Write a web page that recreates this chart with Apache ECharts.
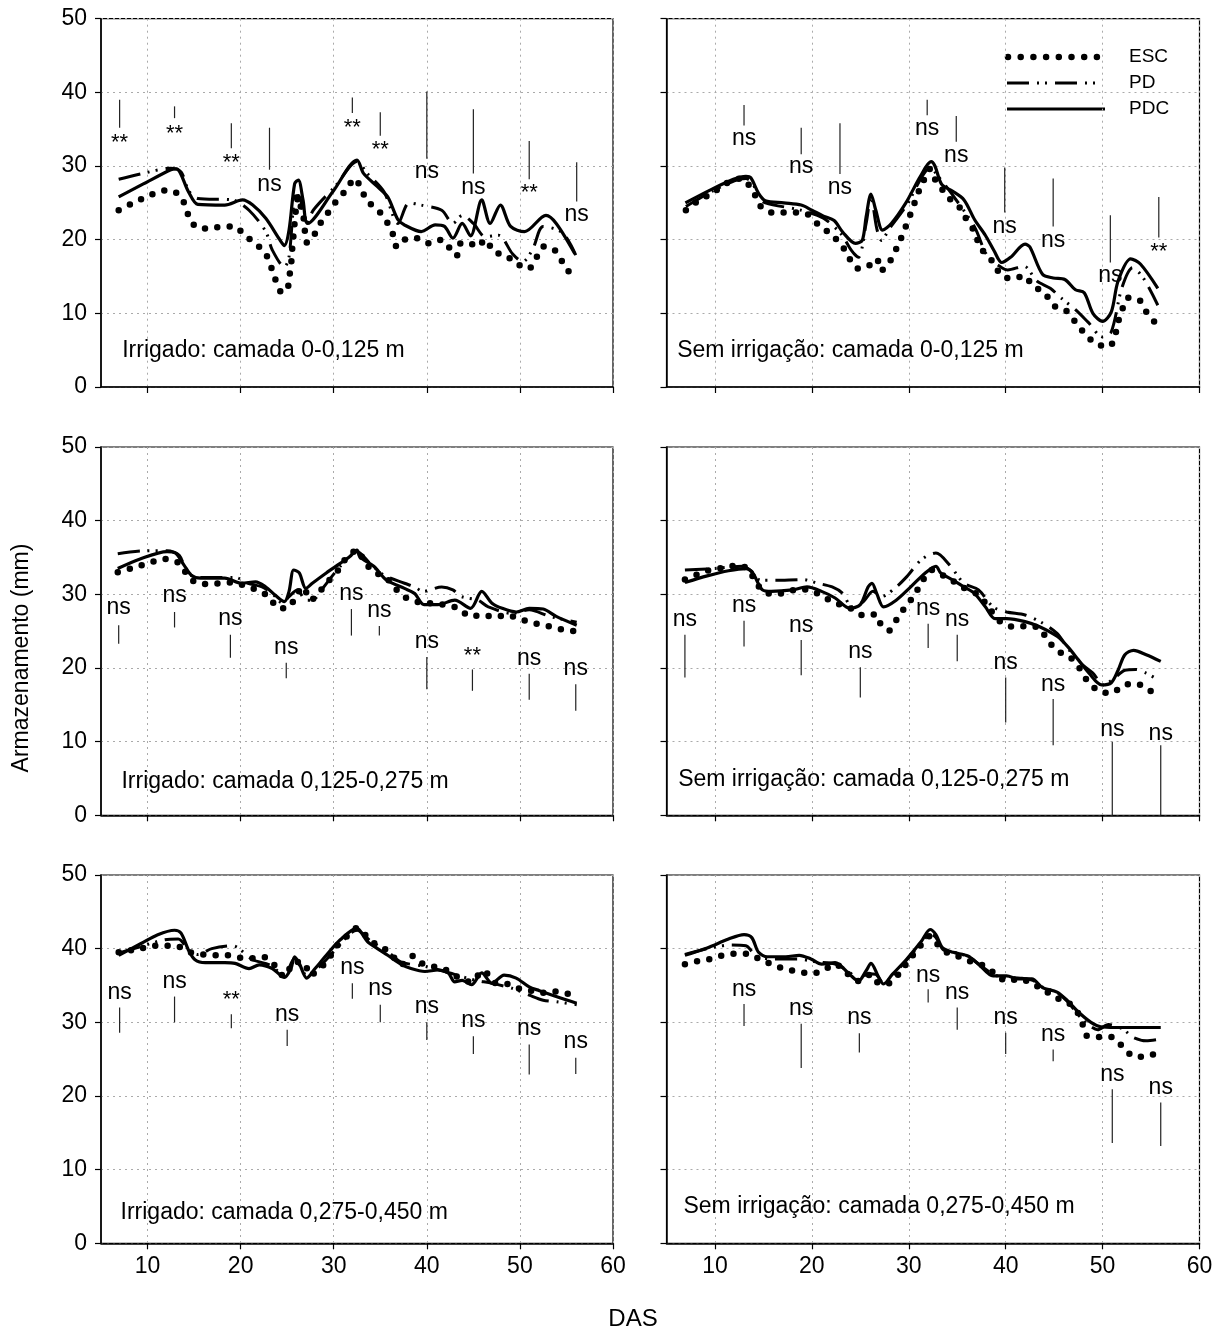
<!DOCTYPE html>
<html><head><meta charset="utf-8">
<script src="https://cdn.jsdelivr.net/npm/echarts@6/dist/echarts.min.js"></script>
<style>html,body{margin:0;padding:0;background:#fff}#c{width:1226px;height:1334px}</style>
</head><body><div id="c"></div>
<script>
// ---------- axis ticks ----------
const xTicks = [10, 20, 30, 40, 50, 60];
const seriesNames = ['ESC', 'PD', 'PDC'];

// ---------- Irrigado: camada 0-0,125 m ----------
const irr1ESC = [[6.9,24.0],[8.3,24.9],[9.5,25.6],[10.8,26.3],[12.1,26.7],[13.3,26.2],[14.1,24.5],[14.5,22.9],[15.4,21.6],[16.7,21.5],[18,21.8],[19.3,21.8],[20.5,20.5],[21.7,19.4],[22.8,17.8],[23.3,16.2],[23.7,14.7],[24.3,13.0],[24.95,13.0],[25.2,14.8],[25.4,16.3],[25.5,18.0],[25.6,19.6],[26.2,25.8],[26.5,24.3],[26.8,22.7],[27.1,19.6],[27.7,20.2],[28.4,21.9],[29.3,23.5],[30.2,25.1],[31.3,26.7],[32.3,28.3],[32.9,27.0],[33.6,25.3],[34.9,23.8],[35.8,22.2],[36.4,20.6],[36.8,19.0],[37.8,20.1],[39,20.2],[40.3,19.5],[41.6,20.0],[42.5,18.8],[43.2,17.8],[43.6,19.5],[44.5,19.6],[45.4,19.0],[46.3,20.0],[47.2,18.3],[48.3,18.0],[49.6,16.8],[50.9,16.0],[51.7,17.4],[52.6,19.1],[53.8,18.5],[54.6,16.9],[55.6,15.0]];
const irr1PD = [[6.9,28.2],[9.5,29.0],[12.5,29.7],[13.6,29.2],[14.4,26.7],[15.4,25.6],[19.1,25.4],[20.9,24.0],[22.7,21.1],[23.4,18.6],[24.7,16.3],[25.2,17.7],[25.8,25.8],[26.2,26.0],[27.1,22.2],[27.8,24.0],[30.2,27.3],[32.5,30.6],[33.6,29.0],[35.4,26.5],[36.9,22.2],[38.1,25.0],[39.4,24.7],[41.6,24.0],[42.8,22.2],[43.8,23.3],[45.0,22.2],[46.3,20.4],[47.7,20.6],[49.2,18.1],[50.3,17.0],[51.4,18.8],[52.5,21.8],[54.6,20.9],[56.0,17.9]];
const irr1PDC = [[6.9,25.8],[9.6,27.6],[12.5,29.5],[13.1,29.6],[14.4,26.5],[15.4,24.8],[18.3,24.7],[20.2,25.4],[21.3,24.7],[22.7,22.9],[24.2,20.0],[24.7,19.2],[25.2,21.3],[25.8,27.6],[26.2,28.1],[26.7,25.4],[27.2,22.2],[29.9,26.5],[32.5,30.8],[33.2,29.0],[34.7,27.2],[35.8,25.8],[36.9,22.7],[37.6,22.0],[39.4,21.1],[40.9,22.0],[41.9,21.8],[42.8,20.2],[43.8,22.2],[44.7,20.5],[45.9,25.4],[46.8,22.2],[47.9,24.7],[49.0,21.8],[50.5,21.1],[52.8,23.3],[53.9,22.2],[55.9,18.1]];
// [DAS, bar top, bar bottom, label height] + label text
const irr1Sig = [[7,39.0,35.2,34.0],[12.9,38.1,36.5,35.2],[19,35.8,32.4,31.3],[23.1,35.2,29.5,27.2],[32,39.3,37.2,36.0],[35,37.3,34.1,33.0],[40,40.1,31.0,29.0],[45,37.7,29.0,26.8],[51,33.4,28.2,27.2],[56.1,30.5,25.2,23.1]];
const irr1SigText = ['**','**','**','ns','**','**','ns','ns','**','ns'];

// ---------- Sem irrigação: camada 0-0,125 m ----------
const sem1ESC = [[7,24],[8.3,25.3],[9.7,26.3],[11.1,27.6],[12.7,28.3],[14.0,26.4],[14.6,24.7],[15.8,23.7],[17,23.7],[18.3,23.7],[19.5,23.5],[20.7,22.0],[21.9,20.8],[23.1,19.2],[23.8,17.6],[24.7,16.1],[25.7,16.3],[26.7,17.4],[27.1,15.8],[27.9,16.7],[29.1,19.9],[29.6,21.5],[30.1,23.2],[30.6,25.0],[31.1,26.8],[31.6,28.2],[32.2,29.6],[32.7,28.2],[34.2,25.6],[35.3,24.3],[35.8,23.1],[36.6,21.5],[37.1,19.9],[37.7,18.4],[38.8,16.8],[39.5,15.2],[40.7,14.7],[41.9,15.1],[42.8,13.7],[44.0,12.8],[44.9,11.1],[46.2,10.4],[47.2,8.8],[48.2,7.2],[49.4,5.8],[50.7,5.5],[51.3,7.1],[51.6,8.8],[52.0,10.4],[52.6,12.1],[53.8,11.8],[54.6,10.0],[55.6,8.5]];
const sem1PD = [[7.0,24.5],[9.6,26.5],[12.0,28.0],[13.2,28.3],[13.8,27.8],[14.6,25.8],[15.2,25.0],[18.9,24.0],[21.2,22.9],[23.0,20.8],[24.1,18.5],[24.8,17.6],[25.6,22.2],[26.1,25.8],[26.7,21.5],[27.2,19.9],[28.0,21.5],[29.7,24.5],[32.3,29.8],[32.8,29.0],[34.5,26.1],[36.8,21.7],[38.1,17.8],[39.6,16.2],[40.2,15.9],[41.9,16.4],[43.2,14.4],[44.6,13.4],[45.7,12.1],[47.2,10.5],[48.5,8.8],[50.0,6.8],[50.9,7.5],[52.0,13.5],[53.1,16.2],[54.2,14.8],[55.7,11.1]];
const sem1PDC = [[6.95,25.0],[9.6,26.8],[11.9,28.2],[13.2,28.6],[13.7,28.4],[14.5,26.3],[15.2,25.3],[17.1,25.0],[18.9,24.7],[20.0,24.0],[21.2,23.2],[22.3,22.6],[23.2,21.0],[24.5,19.5],[25.2,19.9],[25.6,23.1],[26.1,26.2],[26.6,24.0],[27.3,21.3],[28.2,22.2],[29.7,25.0],[31.2,28.6],[32.3,30.6],[32.7,30.0],[33.4,27.5],[34.5,26.6],[35.7,25.4],[36.8,22.7],[37.9,20.6],[38.8,18.5],[39.6,16.9],[40.5,17.6],[42.0,19.4],[42.5,19.0],[43.8,15.3],[44.9,14.8],[46.1,14.6],[47.2,13.2],[48.1,12.8],[49.0,10.0],[50.0,8.9],[50.9,10.2],[51.6,14.4],[52.9,17.4],[53.9,16.7],[55.7,13.4]];
const sem1Sig = [[13,38.3,35.5,33.5],[18.9,35.2,31.6,29.6],[22.9,35.8,28.9,26.8],[31.9,39.0,36.9,34.8],[34.9,36.8,33.3,31.2],[39.9,29.8,23.7,21.5],[44.9,28.3,21.8,19.6],[50.8,23.3,16.9,14.8],[55.8,25.8,20.3,19.2]];
const sem1SigText = ['ns','ns','ns','ns','ns','ns','ns','ns','**'];

// ---------- Irrigado: camada 0,125-0,275 m ----------
const irr2ESC = [[6.8,33.0],[8.2,33.5],[9.5,34.0],[10.8,34.5],[12.0,34.8],[13.3,34.3],[14.2,32.8],[15.3,31.5],[16.6,31.4],[17.9,31.5],[19.1,31.6],[20.4,31.2],[21.7,30.6],[23.0,29.7],[24.1,28.1],[25.1,28.2],[26.1,30.1],[26.7,31.0],[27.5,29.2],[28.5,30.4],[29.5,31.9],[30.5,33.3],[31.5,35.2],[32.6,36.0],[33.1,34.9],[34.2,33.1],[35.5,32.4],[36.5,31.0],[37.4,29.8],[38.5,29.2],[39.7,28.8],[40.8,28.8],[42.1,28.5],[43.4,28.1],[44.7,27.0],[46.0,27.2],[47.3,26.9],[48.6,27.2],[49.9,26.7],[51.2,26.2],[52.5,25.8],[53.7,25.5],[55.0,25.1],[56.0,25.0]];
const irr2PD = [[6.8,35.5],[9.6,35.9],[12.1,35.9],[13.4,35.3],[14.3,32.9],[15.7,32.3],[19.4,32.3],[20.8,31.5],[22.3,31.0],[23.4,30.1],[24.5,28.8],[25.2,29.7],[26.1,30.6],[27.0,29.2],[27.7,29.2],[28.8,30.8],[30.7,33.8],[32.5,35.8],[33.9,34.2],[35.4,32.6],[37.6,31.5],[38.7,31.0],[39.6,30.4],[41.6,31.0],[42.8,30.6],[43.7,29.7],[45.5,29.2],[46.6,28.3],[49.2,27.4],[51.0,27.9],[53.2,27.0],[56.1,26.2]];
const irr2PDC = [[6.8,33.5],[9.2,34.8],[12.1,35.8],[13.0,35.6],[13.9,34.0],[14.7,32.6],[15.7,32.2],[18.3,32.2],[20.1,31.5],[21.6,31.7],[22.7,31.0],[23.7,29.9],[24.7,29.0],[25.2,30.4],[25.7,33.3],[26.3,32.9],[27.0,30.8],[27.7,31.5],[29.2,32.9],[30.7,34.2],[31.7,35.1],[32.5,36.0],[32.8,35.1],[34.3,33.8],[35.7,31.9],[37.6,30.8],[38.7,30.1],[39.7,28.6],[41.2,28.6],[43.0,29.2],[44.7,28.1],[45.9,30.4],[47.0,28.8],[48.1,28.1],[49.6,27.6],[51.0,28.1],[52.5,28.0],[53.9,27.0],[56.1,25.8]];
const irr2Sig = [[6.9,25.8,23.3,27.9],[12.9,27.6,25.5,29.5],[18.9,24.5,21.4,26.4],[24.9,20.7,18.6,22.5],[31.9,28.0,24.4,29.8],[34.9,25.7,24.4,27.5],[40.0,21.5,17.1,23.3],[44.9,19.8,16.9,22.4],[51.0,19.2,15.7,21.0],[56.0,17.8,14.2,19.6]];
const irr2SigText = ['ns','ns','ns','ns','ns','ns','ns','**','ns','ns'];

// ---------- Sem irrigação: camada 0,125-0,275 m ----------
const sem2ESC = [[6.9,32.0],[8.2,32.7],[9.5,33.3],[10.9,33.6],[12.2,33.9],[13.4,33.5],[14.1,31.9],[15.0,30.4],[16.3,30.0],[17.5,30.4],[18.8,30.7],[20.1,30.4],[21.4,29.5],[22.7,28.7],[24.0,28.1],[25.4,27.1],[26.6,27.3],[27.2,25.7],[28.0,25.1],[28.8,26.7],[29.7,28.4],[30.6,29.9],[31.3,31.6],[32.4,33.3],[33.0,32.9],[34.1,32.2],[35.5,31.0],[37.2,29.9],[38.3,28.1],[39.6,26.1],[40.9,25.6],[42.2,25.7],[43.5,25.4],[44.3,23.8],[45.4,22.3],[46.6,21.5],[47.6,20.0],[48.4,18.3],[49.7,16.8],[50.9,16.6],[52.1,17.6],[53.4,17.9],[54.7,17.1],[55.9,16.0]];
const sem2PD = [[6.9,33.3],[9.9,33.5],[12.8,33.8],[13.8,33.1],[14.7,31.9],[16.2,31.9],[19.1,32.0],[20.6,31.5],[22.1,31.0],[23.2,30.1],[24.1,28.3],[25.3,29.0],[26.3,30.4],[27.2,29.7],[28.7,31.0],[29.8,32.4],[31.3,34.7],[32.8,35.6],[34.2,34.0],[35.7,31.5],[37.2,30.6],[38.7,28.3],[40.1,27.6],[42.0,27.2],[43.8,26.1],[45.3,24.7],[46.4,22.7],[47.5,20.9],[49.0,19.3],[50.1,17.7],[51.2,18.6],[52.3,19.7],[53.4,19.8],[54.5,19.3],[55.6,18.5]];
const sem2PDC = [[6.9,31.6],[9.2,32.5],[11.4,33.2],[13.2,33.5],[13.9,32.9],[14.9,30.6],[15.8,30.4],[18.0,30.6],[19.5,31.0],[21.0,30.4],[22.4,29.5],[23.9,28.1],[25.0,28.6],[25.8,31.0],[26.2,31.5],[26.7,30.1],[27.4,28.3],[28.7,29.2],[30.2,31.0],[31.7,32.9],[32.8,33.8],[33.3,32.9],[34.6,31.9],[35.7,31.0],[36.8,30.1],[37.9,28.3],[38.9,26.7],[40.1,26.7],[42.0,26.3],[43.5,25.6],[45.3,24.3],[46.4,22.9],[47.5,21.1],[48.6,19.3],[49.9,17.7],[50.9,18.0],[51.6,19.7],[52.3,21.8],[53.2,22.4],[54.5,21.8],[56.0,20.9]];
const sem2Sig = [[6.9,24.5,18.7,26.3],[13.0,26.4,22.9,28.2],[18.9,23.8,19.0,25.5],[25.0,20.1,16.0,21.9],[32.0,26.0,22.7,27.8],[35.0,24.5,20.9,26.3],[40.0,18.7,12.6,20.5],[44.9,15.8,9.5,17.5],[51.0,10.0,0,11.4],[56.0,9.5,0,10.8]];
const sem2SigText = ['ns','ns','ns','ns','ns','ns','ns','ns','ns','ns'];

// ---------- Irrigado: camada 0,275-0,450 m ----------
const irr3ESC = [[6.9,39.5],[8.3,39.8],[9.5,40.1],[10.8,40.4],[12.1,40.4],[13.3,40.3],[14.6,39.5],[16.0,39.2],[17.3,39.1],[18.5,39.1],[19.8,38.8],[21.2,38.7],[22.4,38.9],[23.6,37.8],[24.7,36.2],[25.8,38.2],[26.9,38.0],[27.4,36.4],[29.2,38.2],[30.3,40.3],[31.6,41.9],[32.5,42.8],[34.0,41.0],[35.0,40.3],[36.1,39.4],[37.2,37.8],[38.5,39.0],[39.6,37.9],[40.9,37.5],[42.1,37.1],[43.5,36.0],[44.7,35.5],[46.1,37.0],[47.4,35.3],[48.7,35.2],[49.9,34.6],[51.2,34.3],[52.5,34.0],[53.7,34.2],[55.1,33.9],[56.0,33.6]];
const irr3PD = [[6.9,39.4],[9.3,40.3],[11.8,41.2],[13.3,41.3],[14.4,39.8],[15.4,39.2],[16.9,40.0],[19.1,40.4],[21.3,38.5],[23.1,37.8],[24.7,36.4],[25.8,38.7],[27.1,36.4],[28.5,37.6],[30.0,39.6],[32.5,42.5],[34.0,41.0],[35.8,39.6],[37.2,38.2],[39.8,37.6],[41.9,36.9],[43.8,36.2],[45.2,35.7],[47.0,35.3],[49.2,34.6],[51.0,33.7],[52.5,33.0],[53.9,32.8],[56.1,32.4]];
const irr3PDC = [[6.9,39.1],[9.3,40.7],[11.1,41.9],[12.9,42.5],[13.6,42.1],[14.4,39.8],[15.1,38.5],[16.2,38.1],[18.3,38.1],[19.4,38.0],[20.9,37.3],[22.0,37.8],[23.4,37.3],[24.7,36.1],[25.4,37.3],[25.8,38.9],[26.3,38.0],[27.1,36.0],[28.0,37.3],[29.2,39.1],[30.7,41.2],[32.5,42.8],[32.9,42.3],[33.6,41.0],[34.7,40.0],[35.8,39.1],[37.2,37.9],[38.3,37.3],[39.8,36.9],[41.2,37.1],[42.3,36.7],[43.0,35.5],[43.8,35.7],[44.8,35.1],[45.9,36.7],[47.0,35.3],[48.3,36.4],[49.6,36.0],[51.0,34.8],[52.1,34.3],[53.9,33.5],[56.1,32.6]];
const irr3Sig = [[7.0,32.0,28.6,33.8],[12.9,33.5,30.0,35.3],[19.0,31.1,29.2,33.8],[25.0,29.0,26.8,30.8],[32.0,35.3,33.2,37.1],[35.0,32.4,30.0,34.3],[40.0,30.0,27.6,31.8],[45.0,28.1,25.7,29.9],[51.0,27.0,22.9,28.9],[56.0,25.2,23.0,27.1]];
const irr3SigText = ['ns','ns','**','ns','ns','ns','ns','ns','ns','ns'];

// ---------- Sem irrigação: camada 0,275-0,450 m ----------
const sem3ESC = [[6.9,37.9],[8.2,38.3],[9.5,38.6],[10.8,39.1],[12.1,39.3],[13.4,39.3],[14.7,38.5],[16.0,37.8],[17.3,37.2],[18.6,36.9],[19.9,36.6],[21.1,37.0],[22.4,37.9],[23.5,36.8],[24.8,35.6],[26.1,36.5],[27.0,35.2],[28.0,35.3],[29.1,36.8],[30.0,38.4],[30.9,39.9],[32.2,41.7],[32.8,40.8],[33.9,39.5],[35.0,39.0],[36.3,38.3],[37.7,37.7],[39.0,36.5],[40.1,35.6],[41.4,35.9],[42.5,35.4],[43.8,34.5],[45.1,33.4],[46.4,32.7],[47.3,31.6],[47.9,29.9],[48.3,28.2],[49.6,28.0],[50.9,28.0],[52.2,26.5],[53.3,25.3],[54.5,25.4],[55.8,25.9]];
const sem3PD = [[6.9,39.2],[9.5,40.1],[11.7,40.5],[13.2,40.4],[13.9,39.5],[14.6,38.8],[16.0,38.6],[18.5,38.6],[20.5,38.2],[22.4,37.9],[23.9,36.8],[24.8,35.7],[25.8,36.6],[26.6,36.5],[27.4,35.3],[28.3,36.3],[29.8,38.5],[31.3,40.7],[32.2,42.0],[32.8,41.5],[33.6,39.8],[35.0,39.4],[36.3,38.8],[37.5,37.6],[38.9,36.4],[40.1,36.1],[41.5,36.0],[42.8,35.7],[43.8,34.8],[45.3,34.0],[46.4,32.8],[47.5,31.0],[48.6,29.6],[49.5,29.0],[50.6,29.7],[52.1,29.1],[53.1,28.0],[54.5,27.5],[55.8,27.7]];
const sem3PDC = [[6.9,39.1],[9.2,40.1],[11.4,41.3],[13.0,41.9],[13.8,41.5],[14.5,39.5],[15.4,38.9],[17.3,38.9],[18.7,39.1],[19.9,38.6],[21.0,37.9],[22.4,38.1],[23.9,36.5],[24.8,35.6],[25.6,37.0],[26.1,38.0],[26.9,36.1],[27.4,35.2],[28.3,36.5],[29.8,38.6],[31.3,41.0],[32.2,42.6],[32.8,41.9],[33.5,40.1],[34.6,39.5],[36.1,39.0],[37.2,37.9],[38.7,36.3],[40.1,36.3],[41.3,35.9],[42.7,35.9],[43.8,34.7],[45.3,34.1],[46.4,32.9],[47.5,31.4],[48.8,30.0],[49.8,29.4],[51.3,29.3],[53.1,29.3],[56.0,29.3]];
const sem3Sig = [[13.0,32.5,29.5,34.2],[18.9,29.8,23.8,31.6],[24.9,28.5,25.9,30.3],[32.0,34.5,32.7,36.1],[35.0,32.0,29.0,33.8],[40.0,28.6,25.7,30.3],[44.9,26.3,24.7,28.0],[51.0,20.9,13.6,22.6],[56.0,19.1,13.2,20.9]];
const sem3SigText = ['ns','ns','ns','ns','ns','ns','ns','ns','ns'];

// ---------- panel texts ----------
const panelTitles = ['Irrigado: camada 0-0,125 m','Sem irrigação: camada 0-0,125 m','Irrigado: camada 0,125-0,275 m','Sem irrigação: camada 0,125-0,275 m','Irrigado: camada 0,275-0,450 m','Sem irrigação: camada 0,275-0,450 m'];

// ---------- layout (not data) ----------
const FONT = 'Liberation Sans, Arial, sans-serif';
const colLeft = [101, 666.5], colWidth = [512, 533];
const rowTop = [18.7, 447, 875], rowH = 368.3;
const titleAnchor = [[7.28,5.0],[6.1,4.9],[7.2,4.6],[6.2,4.8],[7.1,4.2],[6.75,5.0]];

const panels = [
  {esc: irr1ESC, pd: irr1PD, pdc: irr1PDC, sig: irr1Sig, sigText: irr1SigText},
  {esc: sem1ESC, pd: sem1PD, pdc: sem1PDC, sig: sem1Sig, sigText: sem1SigText},
  {esc: irr2ESC, pd: irr2PD, pdc: irr2PDC, sig: irr2Sig, sigText: irr2SigText},
  {esc: sem2ESC, pd: sem2PD, pdc: sem2PDC, sig: sem2Sig, sigText: sem2SigText},
  {esc: irr3ESC, pd: irr3PD, pdc: irr3PDC, sig: irr3Sig, sigText: irr3SigText},
  {esc: sem3ESC, pd: sem3PD, pdc: sem3PDC, sig: sem3Sig, sigText: sem3SigText}
];

const ESC_STYLE = {color: '#000', width: 6.5, type: [0, 12.4], cap: 'round'};
const PD_DASH = [22, 8, 2, 6, 2, 8];
const PD_STYLE = {color: '#000', width: 3, type: PD_DASH};
const PDC_STYLE = {color: '#000', width: 3.2, type: 'solid'};

const grid = [], xAxis = [], yAxis = [], series = [];
panels.forEach((p, i) => {
  const col = i % 2, row = Math.floor(i / 2);
  grid.push({left: colLeft[col], top: rowTop[row], width: colWidth[col], height: rowH,
    show: true, borderColor: '#000', borderWidth: 1.2, backgroundColor: 'transparent'});
  xAxis.push({type: 'value', gridIndex: i, min: 5, max: 60,
    axisLine: {show: true, onZero: false, lineStyle: {color: '#000', width: 1.5}},
    axisTick: {show: true, inside: false, length: 6, customValues: xTicks, lineStyle: {color: '#000', width: 1.2}},
    axisLabel: {show: row === 2, customValues: xTicks, margin: 12, color: '#000', fontSize: 23, fontFamily: FONT},
    splitLine: {show: true, lineStyle: {color: '#aaa', width: 1, type: [2, 4]}}
  });
  yAxis.push({type: 'value', gridIndex: i, min: 0, max: 50, interval: 10,
    axisLine: {show: true, lineStyle: {color: '#000', width: 1.5}},
    axisTick: {show: true, inside: false, length: 6, lineStyle: {color: '#000', width: 1.2}},
    axisLabel: {show: col === 0, margin: 14, color: '#000', fontSize: 23, fontFamily: FONT},
    splitLine: {show: true, lineStyle: {color: '#aaa', width: 1, type: [2, 4]}}
  });
  const base = {type: 'line', xAxisIndex: i, yAxisIndex: i, symbol: 'none', showSymbol: false,
    smooth: 0.3, silent: true, animation: false};
  series.push(Object.assign({}, base, {name: 'ESC', data: p.esc, lineStyle: ESC_STYLE, z: 2}));
  series.push(Object.assign({}, base, {name: 'PD', data: p.pd, lineStyle: PD_STYLE, z: 3}));
  series.push(Object.assign({}, base, {name: 'PDC', data: p.pdc, lineStyle: PDC_STYLE, z: 4}));
  // significance bars + labels
  series.push({type: 'custom', xAxisIndex: i, yAxisIndex: i, silent: true, z: 5, animation: false,
    data: p.sig, encode: {x: 0, y: [1, 2]},
    renderItem: function (params, api) {
      const x = api.value(0), y1 = api.value(1), y2 = api.value(2), ly = api.value(3);
      const lab = p.sigText[params.dataIndex];
      const a = api.coord([x, y1]), b = api.coord([x, y2]), c = api.coord([x, ly]);
      const dy = lab === '**' ? 6 : -2;
      return {type: 'group', children: [
        {type: 'line', shape: {x1: a[0], y1: a[1], x2: b[0], y2: b[1]}, style: {stroke: '#222', lineWidth: 1.2}},
        {type: 'text', x: c[0], y: c[1] + dy, style: {text: lab, fill: '#000', fontSize: lab === '**' ? 22 : 23, fontFamily: FONT, align: 'center', verticalAlign: 'middle'}}
      ]};
    }
  });
  // panel title
  series.push({type: 'custom', xAxisIndex: i, yAxisIndex: i, silent: true, z: 6, animation: false,
    data: [titleAnchor[i]],
    renderItem: function (params, api) {
      const c = api.coord([api.value(0), api.value(1)]);
      return {type: 'text', x: c[0], y: c[1], style: {text: panelTitles[i], fill: '#000', fontSize: 23, fontFamily: FONT, align: 'left', verticalAlign: 'middle'}};
    }
  });
});

// legend drawn as graphic samples (top-right panel)
const lgX1 = 1007, lgX2 = 1105, lgText = 1129, lgY = [57, 83, 109];
const graphic = [
  {type: 'line', shape: {x1: lgX1 + 1, y1: lgY[0], x2: lgX2 - 8, y2: lgY[0]}, style: {stroke: '#000', lineWidth: 6.5, lineDash: [0, 12.7], lineCap: 'round'}},
  {type: 'line', shape: {x1: lgX1, y1: lgY[1], x2: lgX2 - 8, y2: lgY[1]}, style: {stroke: '#000', lineWidth: 3, lineDash: PD_DASH}},
  {type: 'line', shape: {x1: lgX1, y1: lgY[2], x2: lgX2, y2: lgY[2]}, style: {stroke: '#000', lineWidth: 3.2}},
  {type: 'text', x: lgText, y: lgY[0], style: {text: seriesNames[0], fill: '#000', fontSize: 19, fontFamily: FONT, verticalAlign: 'middle'}},
  {type: 'text', x: lgText, y: lgY[1], style: {text: seriesNames[1], fill: '#000', fontSize: 19, fontFamily: FONT, verticalAlign: 'middle'}},
  {type: 'text', x: lgText, y: lgY[2], style: {text: seriesNames[2], fill: '#000', fontSize: 19, fontFamily: FONT, verticalAlign: 'middle'}},
  {type: 'text', x: 22, y: 658, rotation: Math.PI / 2, style: {text: 'Armazenamento (mm)', fill: '#000', fontSize: 23, fontFamily: FONT, align: 'center', verticalAlign: 'middle'}},
  {type: 'text', x: 633, y: 1319, style: {text: 'DAS', fill: '#000', fontSize: 24, fontFamily: FONT, align: 'center', verticalAlign: 'middle'}}
];

const chart = echarts.init(document.getElementById('c'), null, {renderer: 'canvas'});
chart.setOption({animation: false, backgroundColor: '#fff', grid, xAxis, yAxis, series, graphic, legend: {show: false}});
</script></body></html>
